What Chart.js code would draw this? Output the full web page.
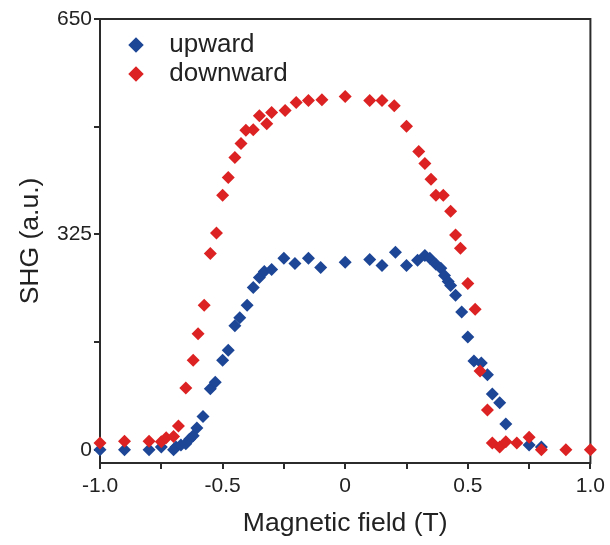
<!DOCTYPE html>
<html>
<head>
<meta charset="utf-8">
<script src="https://cdn.jsdelivr.net/npm/chart.js@4/dist/chart.umd.min.js"></script>
<style>
  html, body { margin: 0; padding: 0; background: #fff; }
</style>
</head>
<body>
<canvas id="grafico" width="610" height="545"></canvas>
<script>
// upward sweep
let upX = [-1.0, -0.90, -0.80, -0.75, -0.70, -0.69, -0.67, -0.65, -0.635, -0.62, -0.605, -0.58,
  -0.55, -0.53, -0.50, -0.477, -0.45, -0.43, -0.40, -0.375, -0.35, -0.33, -0.30, -0.25, -0.205,
  -0.15, -0.10, 0.0, 0.10, 0.15, 0.205, 0.25, 0.295, 0.325, 0.345, 0.37, 0.39, 0.405, 0.42, 0.43,
  0.45, 0.475, 0.50, 0.525, 0.555, 0.58, 0.60, 0.63, 0.655, 0.75, 0.80];
let upY = [0, 0, 0, 4, 0, 4, 7, 9, 16, 21, 33, 50,
  92, 102, 135, 150, 187, 199, 218, 245, 260, 269, 272, 289, 281,
  289, 275, 283, 287, 278, 298, 278, 286, 293, 289, 280, 274, 263, 254, 248,
  233, 208, 170, 134, 131, 113, 84, 71, 39, 7, 4];

// downward sweep
let downX = [-1.0, -0.90, -0.80, -0.75, -0.73, -0.70, -0.68, -0.65, -0.62, -0.60, -0.575, -0.55,
  -0.525, -0.50, -0.477, -0.45, -0.425, -0.405, -0.375, -0.35, -0.32, -0.30, -0.245, -0.20, -0.15,
  -0.095, 0.0, 0.10, 0.15, 0.20, 0.25, 0.30, 0.325, 0.35, 0.37, 0.40, 0.43, 0.45, 0.47, 0.50,
  0.53, 0.55, 0.58, 0.60, 0.63, 0.655, 0.70, 0.75, 0.80, 0.90, 1.0];
let downY = [10, 13, 13, 12, 18, 20, 36, 93, 135, 175, 218, 296,
  327, 384, 411, 441, 462, 482, 483, 504, 492, 509, 512, 524, 527,
  528, 533, 527, 527, 519, 488, 450, 432, 408, 384, 384, 360, 324, 304, 251,
  212, 119, 60, 10, 4, 12, 10, 19, 0, 0, 0];

let xTicks = [-1.0, -0.75, -0.5, -0.25, 0, 0.25, 0.5, 0.75, 1.0];
let xLabels = ["-1.0", "", "-0.5", "", "0", "", "0.5", "", "1.0"];
let yTicks = [0, 162.5, 325, 487.5, 650];
let yLabels = ["0", "", "325", "", "650"];

const azul = "#1d4696";
const vermelho = "#dc2222";
const tinta = "#222";
const fonte = "'Liberation Sans', Arial, sans-serif";

function pontos(xs, ys) {
  return xs.map((x, i) => ({ x: x, y: ys[i] }));
}

// frame around the plot area + legend nudge into the upper left corner
const moldura = {
  id: "moldura",
  afterLayout(chart) {
    chart.legend.top += 29;
    chart.legend.bottom += 29;
    chart.legend.left += 20;
    chart.legend.right += 20;
  },
  beforeDatasetsDraw(chart) {
    const a = chart.chartArea;
    const ctx = chart.ctx;
    ctx.save();
    ctx.strokeStyle = "#2b2b2b";
    ctx.lineWidth = 2;
    ctx.strokeRect(a.left, a.top, a.right - a.left, a.bottom - a.top);
    ctx.restore();
  },
};

let grafico = new Chart(document.getElementById("grafico"), {
  type: "scatter",
  data: {
    datasets: [
      {
        label: " upward",
        data: pontos(upX, upY),
        backgroundColor: azul,
        borderColor: azul,
        borderWidth: 0,
        pointStyle: "rectRot",
        pointRadius: 6.5,
        clip: false,
        order: 2,
      },
      {
        label: " downward",
        data: pontos(downX, downY),
        backgroundColor: vermelho,
        borderColor: vermelho,
        borderWidth: 0,
        pointStyle: "rectRot",
        pointRadius: 6.5,
        clip: false,
        order: 1,
      },
    ],
  },
  options: {
    responsive: false,
    animation: false,
    devicePixelRatio: 1,
    layout: { padding: { left: 0, top: 19, right: 17, bottom: 0 } },
    plugins: {
      tooltip: { enabled: false },
      legend: {
        position: "chartArea",
        align: "start",
        labels: {
          usePointStyle: true,
          boxWidth: 44,
          boxHeight: 11,
          padding: 3,
          color: tinta,
          font: { family: fonte, size: 26 },
          sort: (a, b) => a.datasetIndex - b.datasetIndex,
        },
      },
    },
    scales: {
      x: {
        type: "linear",
        min: -1,
        max: 1,
        afterBuildTicks: (s) => { s.ticks = xTicks.map((v) => ({ value: v })); },
        afterFit: (s) => { s.height = 82; },
        border: { display: false },
        grid: { drawOnChartArea: false, drawTicks: true, tickLength: 6, color: "#2b2b2b", lineWidth: 2 },
        ticks: {
          autoSkip: false,
          maxRotation: 0,
          padding: 5,
          color: tinta,
          font: { family: fonte, size: 21 },
          callback: (v, i) => xLabels[i],
        },
        title: {
          display: true,
          text: "Magnetic field (T)",
          color: tinta,
          font: { family: fonte, size: 26.5 },
          padding: { top: 0, bottom: 5 },
        },
      },
      y: {
        type: "linear",
        min: -20,
        max: 650,
        afterBuildTicks: (s) => { s.ticks = yTicks.map((v) => ({ value: v })); },
        afterFit: (s) => { s.width = 100; },
        border: { display: false },
        grid: { drawOnChartArea: false, drawTicks: true, tickLength: 6, color: "#2b2b2b", lineWidth: 2 },
        ticks: {
          autoSkip: false,
          padding: 2,
          color: tinta,
          font: { family: fonte, size: 21 },
          callback: (v, i) => yLabels[i],
        },
        title: {
          display: true,
          text: "SHG (a.u.)",
          color: tinta,
          font: { family: fonte, size: 26.5 },
          padding: { top: 15, bottom: 0 },
        },
      },
    },
  },
  plugins: [moldura],
});
</script>
</body>
</html>
